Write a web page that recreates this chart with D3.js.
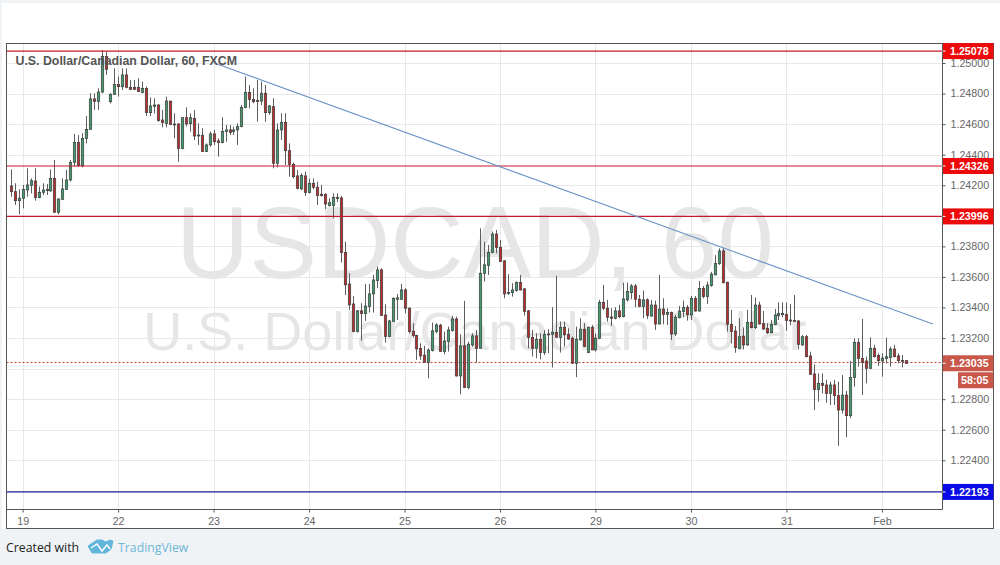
<!DOCTYPE html>
<html><head><meta charset="utf-8">
<style>
html,body{margin:0;padding:0;background:#f0f3f6;width:1000px;height:565px;overflow:hidden;font-family:"Liberation Sans",Arial,sans-serif}
svg{display:block}
</style>
<script src="https://cdn.jsdelivr.net/npm/d3@7"></script>
</head><body>
<svg id="c" width="1000" height="565"></svg>
<script>
// prices in 1e-5 units
const opens=[124195,124158,124099,124115,124169,124200,124228,124119,124154,124165,124163,124245,124023,124108,124173,124235,124350,124481,124328,124507,124566,124765,124749,124810,125042,124747,124795,124860,124845,124922,124841,124841,124841,124808,124834,124675,124717,124725,124627,124605,124751,124597,124601,124440,124642,124603,124638,124525,124527,124420,124464,124536,124490,124479,124551,124562,124551,124562,124584,124708,124808,124762,124754,124751,124802,124675,124714,124344,124562,124612,124426,124337,124261,124176,124261,124152,124213,124187,124141,124141,124067,124067,124119,
124117,123761,123554,123423,123242,123378,123360,123406,123489,123576,123646,123351,123210,123308,123454,123454,123515,123395,123245,123216,123133,123088,123042,123118,123242,123284,123112,123177,123249,123325,122952,123149,122876,123155,123214,123133,123624,123674,123759,123881,123794,123705,123493,123497,123511,123563,123522,123378,123205,123133,123192,123105,123227,123225,123238,123205,123271,123225,123199,123035,123188,123258,123105,123271,123122,123199,123434,123395,123338,123330,123378,123340,123450,123497,123541,123454,123406,123450,
123344,123416,123292,123390,123355,123368,123227,123333,123373,123401,123351,123460,123377,123525,123471,123543,123613,123687,123770,123565,123290,123246,123133,123213,123155,123303,123268,123416,123296,123264,123235,123288,123346,123353,123355,123318,123316,123312,123155,123209,123083,122965,122864,122904,122893,122838,122893,122823,122729,122827,122692,122941,123172,123067,123050,123002,123133,123085,123050,123067,123072,123128,123083,123054,123052];
const highs=[124304,124213,124173,124202,124311,124245,124311,124191,124213,124208,124304,124365,124115,124245,124300,124365,124536,124529,124540,124653,124802,124802,124834,125085,125074,124802,124965,124911,124965,124965,124889,124889,124900,124878,124845,124775,124769,124732,124693,124780,124751,124671,124605,124645,124710,124671,124693,124605,124573,124474,124551,124562,124507,124645,124594,124594,124584,124605,124725,124911,124856,124834,124889,124878,124856,124725,124769,124605,124671,124671,124474,124348,124300,124278,124289,124245,124245,124224,124202,124147,124115,124147,124147,
124130,123831,123624,123476,123384,123428,123554,123554,123613,123668,123657,123421,123319,123467,123489,123554,123526,123402,123297,123221,123166,123149,123133,123301,123297,123293,123242,123275,123345,123340,123225,123443,123177,123231,123253,123918,123831,123809,123897,123908,123842,123711,123618,123559,123570,123613,123526,123384,123253,123231,123231,123253,123258,123402,123607,123308,123308,123264,123210,123275,123330,123297,123275,123286,123231,123450,123548,123450,123395,123402,123417,123563,123563,123554,123554,123482,123511,123460,
123449,123445,123613,123460,123394,123373,123351,123410,123445,123416,123475,123475,123573,123541,123569,123634,123743,123787,123787,123569,123384,123279,123329,123270,123384,123482,123466,123438,123377,123296,123318,123390,123434,123434,123432,123423,123482,123318,123220,123220,123111,123028,122969,122969,122926,122915,122926,122915,122958,122854,123050,123198,123198,123325,123078,123205,123155,123100,123100,123203,123144,123155,123100,123089,123056];
const lows=[124125,124071,124010,124049,124125,124147,124099,124115,124136,124136,124158,124021,124010,124104,124169,124224,124322,124322,124317,124474,124566,124693,124693,124802,124922,124736,124791,124780,124823,124834,124823,124823,124813,124802,124653,124653,124671,124616,124579,124579,124594,124507,124354,124435,124584,124551,124496,124464,124420,124418,124453,124464,124387,124474,124485,124529,124529,124464,124579,124703,124703,124736,124616,124725,124616,124660,124311,124317,124496,124333,124256,124245,124173,124169,124130,124147,124173,124071,124125,124045,124060,123984,124090,
123694,123482,123384,123238,123236,123183,123312,123367,123367,123526,123345,123170,123205,123308,123319,123450,123362,123231,123205,123057,123057,123042,122937,123112,123231,123112,123094,123112,123242,122948,122832,122872,122865,123144,123040,123133,123570,123613,123755,123755,123700,123460,123482,123471,123504,123511,123347,123133,123079,123068,123061,123090,123101,123007,123205,123105,123144,123188,123031,122944,123183,123140,123101,123122,123112,123192,123384,123308,123279,123323,123330,123336,123439,123454,123402,123402,123330,123325,
123340,123253,123290,123290,123285,123187,123213,123329,123336,123314,123318,123373,123373,123460,123423,123536,123613,123678,123558,123242,123165,123104,123126,123126,123150,123264,123259,123290,123253,123227,123231,123283,123318,123336,123248,123285,123307,123126,123150,123074,122958,122729,122784,122838,122777,122762,122762,122494,122707,122550,122675,122882,123013,122827,122904,122998,123072,123017,122947,123035,123013,123074,123035,123008,123030];
const closes=[124158,124099,124115,124173,124202,124230,124119,124154,124169,124173,124245,124023,124110,124176,124235,124350,124481,124328,124507,124566,124765,124749,124810,125042,124959,124795,124860,124845,124922,124841,124828,124828,124813,124834,124675,124719,124725,124623,124610,124751,124597,124601,124440,124642,124601,124642,124522,124529,124420,124464,124536,124485,124479,124553,124562,124546,124562,124584,124710,124808,124762,124747,124749,124802,124675,124719,124344,124562,124610,124426,124337,124256,124180,124263,124152,124213,124187,124132,124132,124077,124086,124119,124115,
123759,123548,123417,123242,123378,123360,123410,123489,123580,123646,123347,123210,123312,123460,123463,123515,123395,123242,123216,123129,123083,123042,123122,123247,123286,123112,123181,123253,123325,122952,123149,122876,123160,123214,123133,123624,123679,123761,123881,123792,123700,123489,123499,123515,123563,123515,123373,123205,123133,123192,123105,123225,123223,123238,123205,123271,123221,123194,123035,123192,123258,123144,123271,123122,123199,123434,123395,123336,123330,123378,123340,123456,123504,123541,123454,123406,123450,123347,
123416,123292,123390,123355,123368,123227,123336,123377,123401,123353,123460,123377,123525,123471,123547,123619,123689,123770,123562,123290,123242,123137,123209,123155,123303,123268,123416,123292,123259,123235,123290,123351,123362,123362,123314,123312,123309,123159,123209,123078,122963,122864,122904,122891,122838,122893,122823,122729,122827,122692,122941,123172,123067,123041,123002,123133,123078,123052,123069,123078,123128,123078,123052,123050,123035];

const priceTicks=[1.224,1.226,1.228,1.23,1.232,1.234,1.236,1.238,1.24,1.242,1.244,1.246,1.248,1.25];
const hiddenTickLabels=[1.23,1.24];
const dayTickBars=[3,27,51,75,99,123,147,171,195,219];
const dayTickLabels=["19","22","23","24","25","26","29","30","31","Feb"];
const redLevels=[1.25078,1.24326,1.23996];
const blueLevel=1.22193;
const lastPrice=1.23035;
const countdown="58:05";
const trendBars=[51.2,231.8];
const trendPrices=[1.25,1.23292];

const svg=d3.select("#c");
const L=6.5,T=43.5,R=942.5,B=509.5,OR=993.5,OB=528.5;
const FONT='"Liberation Sans",Arial,sans-serif';
const x=d3.scaleLinear().domain([0,225]).range([10.7,905.8]);
const y=d3.scaleLinear().domain([1.25,1.224]).range([63,460.3]);

svg.append("rect").attr("x",2).attr("y",3).attr("width",998).attr("height",526).attr("fill","#fff");
svg.append("defs").append("clipPath").attr("id","plot").append("rect").attr("x",L).attr("y",T).attr("width",R-L).attr("height",B-T);

// grid
const grid=svg.append("g").attr("stroke","#e6e8ea").attr("stroke-width",1);
priceTicks.forEach(p=>{const v=Math.round(y(p))+.5;grid.append("line").attr("x1",L).attr("x2",R).attr("y1",v).attr("y2",v)});
dayTickBars.forEach(b=>{const v=Math.round(x(b))+.5;grid.append("line").attr("x1",v).attr("x2",v).attr("y1",T).attr("y2",B)});

// watermark
const wm=svg.append("g").attr("fill","#e6e6e6").attr("text-anchor","middle").attr("font-family",FONT);
wm.append("text").attr("x",475).attr("y",278).attr("font-size",101.5).text("USDCAD, 60");
wm.append("text").attr("x",475).attr("y",349.5).attr("font-size",54).text("U.S. Dollar/Canadian Dollar");

const plot=svg.append("g").attr("clip-path","url(#plot)");

// last price line (dotted)
plot.append("line").attr("x1",L).attr("x2",R).attr("y1",Math.round(y(lastPrice))-.5).attr("y2",Math.round(y(lastPrice))-.5)
 .attr("stroke","#c8402f").attr("stroke-dasharray","2,2");

// candles
const bars=opens.map((o,i)=>({i,o:o/1e5,h:highs[i]/1e5,l:lows[i]/1e5,c:closes[i]/1e5}));
const g=plot.append("g");
g.selectAll("line.w").data(bars).join("line").attr("class","w")
 .attr("x1",d=>Math.round(x(d.i))+.5).attr("x2",d=>Math.round(x(d.i))+.5)
 .attr("y1",d=>y(d.h)).attr("y2",d=>y(d.l)).attr("stroke","#5e5e5e").attr("stroke-width",1);
g.selectAll("rect.b").data(bars).join("rect").attr("class","b")
 .attr("x",d=>Math.round(x(d.i))-1.2+.5).attr("width",2.4)
 .attr("y",d=>y(Math.max(d.o,d.c))).attr("height",d=>Math.max(1,Math.abs(y(d.o)-y(d.c))))
 .attr("fill",d=>d.c>=d.o?"#3f9a6e":"#b52f2f").attr("stroke","#3d3d3d").attr("stroke-width",.7);

// levels & trend
redLevels.forEach(p=>plot.append("line").attr("x1",L).attr("x2",R).attr("y1",y(p)).attr("y2",y(p)).attr("stroke","#c4182c").attr("stroke-width",1.1));
plot.append("line").attr("x1",L).attr("x2",R).attr("y1",y(blueLevel)).attr("y2",y(blueLevel)).attr("stroke","#1a1a9c").attr("stroke-width",1.2);
plot.append("line").attr("x1",x(trendBars[0])).attr("x2",x(trendBars[1])).attr("y1",y(trendPrices[0])).attr("y2",y(trendPrices[1])).attr("stroke","#6d94c6").attr("stroke-width",1.1);

// frame
svg.append("rect").attr("x",L).attr("y",T).attr("width",OR-L).attr("height",OB-T).attr("fill","none").attr("stroke","#555");
svg.append("line").attr("x1",R).attr("x2",R).attr("y1",T).attr("y2",B).attr("stroke","#555");
svg.append("line").attr("x1",L).attr("x2",R).attr("y1",B).attr("y2",B).attr("stroke","#555");

// axes
const yAxis=d3.axisRight(y).tickValues(priceTicks.filter(p=>!hiddenTickLabels.includes(p))).tickSize(3).tickPadding(5).tickFormat(d3.format(".5f"));
const ya=svg.append("g").attr("transform",`translate(${R},0)`).call(yAxis);
ya.select(".domain").remove();
ya.selectAll("text").attr("font-size",10.7).attr("font-family",FONT).attr("fill","#666");
ya.selectAll("line").attr("stroke","#555");

const xAxis=d3.axisBottom(x).tickValues(dayTickBars).tickSize(3).tickPadding(5).tickFormat((d,i)=>dayTickLabels[i]);
const xa=svg.append("g").attr("transform",`translate(0,${B})`).call(xAxis);
xa.select(".domain").remove();
xa.selectAll("text").attr("font-size",10.7).attr("font-family",FONT).attr("fill","#666");
xa.selectAll("line").attr("stroke","#555");

// price labels
function tag(p,fill,txt){
 const v=y(p);
 svg.append("rect").attr("x",R+.5).attr("y",v-8).attr("width",OR-R-.5).attr("height",16).attr("fill",fill);
 svg.append("line").attr("x1",R).attr("x2",R+3).attr("y1",v).attr("y2",v).attr("stroke","#fff");
 svg.append("text").attr("x",950).attr("y",v+3.9).attr("font-size",10.7).attr("font-weight","bold").attr("fill","#fff").text(txt);
}
redLevels.forEach(p=>tag(p,"#ee0a0a",p.toFixed(5)));
tag(blueLevel,"#0a0ae6",blueLevel.toFixed(5));
tag(lastPrice,"#c9574a",lastPrice.toFixed(5));
svg.append("rect").attr("x",958).attr("y",y(lastPrice)+9).attr("width",OR-958).attr("height",16).attr("fill","#c9574a");
svg.append("text").attr("x",961).attr("y",y(lastPrice)+20.9).attr("font-size",10.7).attr("font-weight","bold").attr("fill","#fff").text(countdown);

// title
svg.append("text").attr("x",15.5).attr("y",65).attr("font-size",12.35).attr("font-weight","bold").attr("fill","#555").text("U.S. Dollar/Canadian Dollar, 60, FXCM");

// footer
svg.append("text").attr("x",6).attr("y",552).attr("font-size",12.3).attr("font-family",'"Open Sans",sans-serif').attr("fill","#222").text("Created with");
svg.append("path").attr("d","M88 546 L97 540 L102 540 L106 542 L110 540 L113 541 L111 549 L106 553 L92 553 Z").attr("fill","#62b6dc").attr("stroke","#62b6dc").attr("stroke-width",1).attr("stroke-linejoin","round");
svg.append("path").attr("d","M91 548 L97 544 L102 551 L107 545 L110 549").attr("fill","none").attr("stroke","#fff").attr("stroke-width",1.4);
svg.append("text").attr("x",118).attr("y",552).attr("font-size",12.3).attr("font-family",'"Open Sans",sans-serif').attr("fill","#6fb6d6").text("TradingView");
</script>
</body></html>
